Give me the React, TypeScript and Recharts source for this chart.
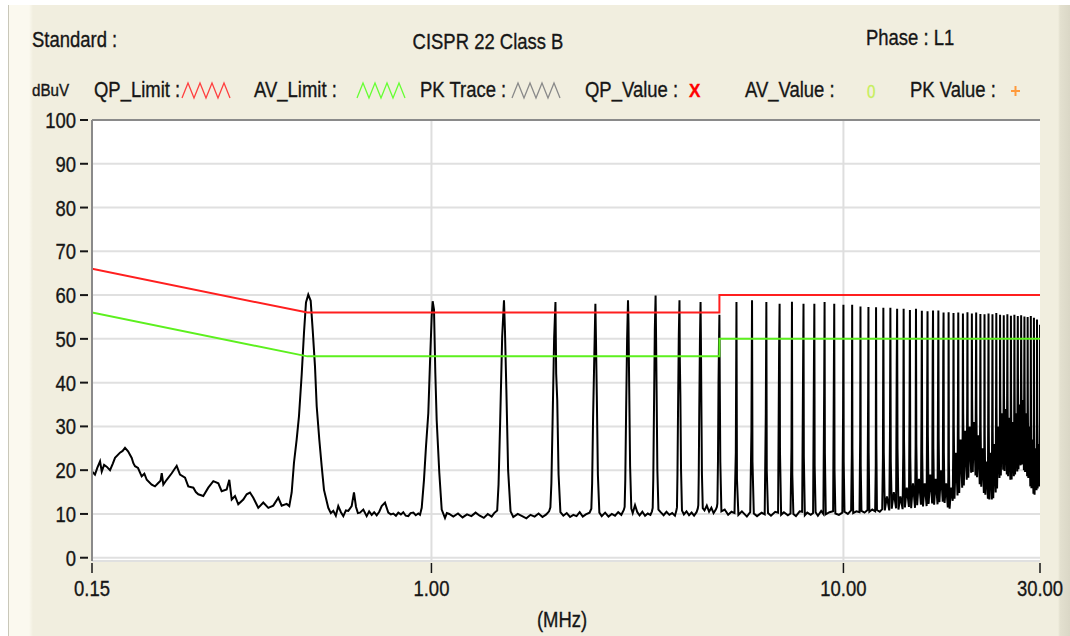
import { CartesianGrid, Line, LineChart, ReferenceLine, XAxis, YAxis } from 'recharts';

// frequency axis (MHz, log) and level axis (dBuV)
const xTicks = [0.15, 1, 10, 30];
const yTicks = [0, 10, 20, 30, 40, 50, 60, 70, 80, 90, 100];

// CISPR 22 class B limits, [MHz, dBuV]
const qpLimit: [number, number][] = [[0.15, 66], [0.5, 56], [5, 56], [5, 60], [30, 60]];
const avLimit: [number, number][] = [[0.15, 56], [0.5, 46], [5, 46], [5, 50], [30, 50]];

// peak trace, [MHz, dBuV]
const pkTraceLow: [number, number][] = [
  [0.15, 19.7], [0.1525, 19.0], [0.1545, 20.5], [0.1569, 22.0], [0.1584, 19.7], [0.1605, 21.2], [0.1628, 20.8],
  [0.1659, 20.0], [0.1685, 21.5], [0.1706, 22.8], [0.1754, 24.0], [0.178, 24.4], [0.1804, 25.1], [0.1835, 24.3],
  [0.1873, 22.8], [0.189, 21.6], [0.1908, 20.9], [0.194, 20.5], [0.198, 18.6], [0.201, 19.2], [0.2037, 17.8],
  [0.2094, 16.7], [0.2133, 16.3], [0.2169, 17.0], [0.22, 17.6], [0.2215, 19.3], [0.2235, 16.7], [0.2277, 17.8],
  [0.2342, 19.3], [0.2408, 21.0], [0.2453, 19.0], [0.2523, 18.3], [0.2569, 16.3], [0.2643, 16.0], [0.268, 15.0],
  [0.2717, 14.5], [0.2794, 14.1], [0.2873, 16.0], [0.2955, 17.5], [0.3039, 17.0], [0.3096, 15.2], [0.3184, 15.6],
  [0.3231, 17.8], [0.3275, 13.3], [0.3336, 14.1], [0.3397, 12.2], [0.3494, 13.3], [0.3561, 14.5], [0.3627, 14.9],
  [0.3695, 13.7], [0.3799, 11.4], [0.3907, 12.6], [0.4018, 11.4], [0.4131, 11.9], [0.4249, 13.7], [0.433, 11.9],
  [0.4453, 12.3], [0.4518, 11.8],
  [0.4579, 14.9], [0.4638, 21.7], [0.4708, 27.0], [0.4769, 32.3], [0.4842, 41.8], [0.4905, 51.4], [0.496, 58.3],
  [0.5024, 60.1], [0.5092, 58.7], [0.515, 52.0], [0.5216, 43.7], [0.5266, 34.6], [0.5343, 27.0], [0.5415, 20.9],
  [0.5485, 15.5], [0.5618, 11.4],
  [0.57, 10.2], [0.5778, 10.7], [0.586, 9.6], [0.5941, 11.8], [0.603, 10.4], [0.6111, 9.5], [0.62, 10.8],
  [0.6283, 10.7], [0.6403, 11.8], [0.6486, 14.9], [0.656, 11.6], [0.663, 10.2], [0.6708, 10.3], [0.6833, 11.0],
  [0.6963, 9.5], [0.706, 10.6], [0.7161, 9.8], [0.726, 10.4], [0.7364, 9.7], [0.747, 10.5], [0.7573, 11.8],
  [0.7714, 12.6], [0.7857, 10.3], [0.797, 9.9], [0.8081, 10.1], [0.82, 9.6], [0.831, 10.3], [0.843, 9.9],
  [0.8544, 10.4], [0.866, 9.6], [0.8786, 9.5], [0.89, 10.2], [0.9038, 10.3], [0.916, 9.7], [0.9292, 10.1],
  [0.938, 9.8], [0.9471, 11.4],
  [0.9592, 17.8], [0.97, 25.4], [0.9826, 33.0], [0.9919, 44.5], [1.0014, 55.2], [1.0069, 58.6], [1.0144, 56.7],
  [1.0219, 42.2], [1.0296, 31.5], [1.0449, 19.4], [1.059, 11.0], [1.0787, 9.1], [1.09, 10.2], [1.1048, 10.0],
];

const pkTraceMid: [number, number][] = [
  [1.13, 9.4], [1.16, 10.1], [1.19, 9.2], [1.22, 9.9], [1.25, 9.5], [1.28, 10.3], [1.31, 9.6], [1.34, 9.1],
  [1.37, 10.0], [1.4, 9.4], [1.42, 10.2],
  [1.444, 10.8], [1.455, 16.7], [1.468, 30.8], [1.485, 50.6], [1.5, 58.8], [1.508, 52], [1.52, 38.4], [1.535, 20], [1.556, 10.6],
  [1.58, 9.3], [1.62, 10.0], [1.66, 9.5], [1.7, 9.0], [1.74, 9.8], [1.78, 9.4], [1.82, 10.1], [1.86, 9.3],
  [1.9, 9.9], [1.93, 10.6],
  [1.944, 11.5], [1.955, 17], [1.968, 31], [1.985, 50], [2.0, 58.4], [2.008, 42], [2.02, 36], [2.035, 19], [2.056, 10.4],
  [2.09, 9.6], [2.13, 10.2], [2.17, 9.3], [2.21, 9.8], [2.25, 9.5], [2.29, 10.4], [2.33, 9.4], [2.37, 9.9], [2.42, 10.3],
  [2.444, 11.2], [2.455, 17], [2.468, 32], [2.485, 46], [2.5, 58.0], [2.508, 50], [2.52, 37], [2.535, 19], [2.556, 10.3],
  [2.59, 9.5], [2.64, 10.3], [2.69, 9.4], [2.74, 10.0], [2.79, 9.6], [2.84, 10.4], [2.89, 9.8], [2.93, 10.9],
  [2.944, 11.6], [2.955, 18], [2.968, 33], [2.985, 50], [3.0, 58.8], [3.008, 53.7], [3.02, 39], [3.035, 21], [3.056, 11.2],
  [3.08, 10.2], [3.12, 12.0], [3.16, 10.4], [3.2, 9.7], [3.25, 10.5], [3.3, 9.6], [3.35, 10.1], [3.4, 9.8], [3.43, 10.6],
  [3.444, 11.4], [3.455, 18], [3.468, 33], [3.485, 52], [3.5, 59.9], [3.508, 52], [3.52, 38], [3.535, 20], [3.556, 11.0],
  [3.6, 10.4], [3.66, 9.7], [3.72, 10.5], [3.78, 9.8], [3.84, 10.2], [3.9, 9.6], [3.93, 10.7],
  [3.944, 11.5], [3.955, 19], [3.968, 34], [3.985, 51], [4.0, 58.8], [4.008, 45], [4.02, 37], [4.035, 20], [4.056, 10.8],
  [4.1, 9.9], [4.16, 10.6], [4.22, 9.7], [4.28, 10.3], [4.34, 9.6], [4.4, 10.4], [4.43, 11.2],
  [4.444, 12.0], [4.455, 19], [4.468, 34], [4.485, 50], [4.5, 58.4], [4.508, 51], [4.52, 36], [4.535, 19], [4.556, 11.3],
  [4.6, 10.8], [4.66, 11.9], [4.72, 10.5], [4.78, 11.4], [4.84, 10.2], [4.9, 11.0], [4.93, 11.6],
  [4.944, 12.4], [4.96, 22], [4.975, 40], [4.99, 50], [5.0, 55.5], [5.01, 40], [5.025, 22], [5.056, 10.6],
  [5.15, 11.0], [5.25, 9.8], [5.35, 10.5],
];

const pkTraceHigh: [number, number][] = [
  [5.44, 10.2], [5.48, 24], [5.5, 58.4], [5.515, 18], [5.56, 9.8], [5.67, 10.6], [5.83, 9.4],
  [5.94, 10.4], [5.98, 29], [6.0, 58.8], [6.015, 22], [6.06, 10.1], [6.17, 9.5], [6.33, 10.3],
  [6.44, 9.9], [6.48, 33], [6.5, 58.4], [6.515, 20], [6.56, 10.2], [6.67, 9.6], [6.83, 10.5],
  [6.94, 10.3], [6.98, 47.5], [7.0, 58.0], [7.015, 24], [7.06, 9.8], [7.17, 10.4], [7.33, 9.7],
  [7.44, 10.1], [7.48, 25.4], [7.5, 58.5], [7.515, 19], [7.56, 10.0], [7.67, 9.5], [7.83, 10.6],
  [7.94, 10.5], [7.98, 42.6], [8.0, 58.0], [8.015, 23], [8.06, 9.7], [8.17, 10.3], [8.33, 9.8],
  [8.44, 10.2], [8.48, 44], [8.5, 58.0], [8.515, 21], [8.56, 10.4], [8.67, 9.6], [8.83, 10.7],
  [8.94, 10.0], [8.98, 39], [9.0, 58.4], [9.015, 24], [9.06, 9.9], [9.25, 10.4],
  [9.44, 10.6], [9.48, 43], [9.5, 58.0], [9.515, 20], [9.56, 10.1], [9.75, 9.8],
  [9.94, 10.3], [9.98, 33], [10.0, 57.8], [10.015, 22], [10.06, 10.5], [10.25, 10.0],
  [10.44, 10.8], [10.48, 23.5], [10.5, 57.8], [10.515, 25], [10.56, 10.2], [10.75, 10.6],
  [10.94, 10.4], [10.98, 27], [11.0, 57.4], [11.015, 21], [11.06, 10.7], [11.25, 10.3],
  [11.44, 10.9], [11.48, 37], [11.5, 57.3], [11.515, 24], [11.56, 10.5], [11.75, 11.0],
  [11.94, 10.6], [11.98, 21], [12.0, 57.2], [12.02, 26], [12.06, 10.9], [12.25, 10.5],
  [12.42, 11.1], [12.47, 22.9], [12.5, 57.1], [12.53, 24], [12.6, 10.8], [12.75, 14],
  [12.92, 10.8], [12.97, 27.7], [13.0, 57.1], [13.03, 22], [13.1, 11.2], [13.25, 15],
  [13.42, 11.3], [13.47, 44], [13.5, 56.9], [13.53, 25], [13.6, 11.0], [13.75, 14],
  [13.92, 11.1], [13.97, 24], [14.0, 56.9], [14.03, 27], [14.1, 11.5], [14.25, 16],
  [14.42, 11.6], [14.47, 34], [14.5, 56.6], [14.53, 23], [14.6, 11.3], [14.75, 17],
  [14.92, 11.4], [14.97, 25.4], [15.0, 56.9], [15.03, 26], [15.1, 12.0], [15.25, 18],
  [15.42, 12.1], [15.47, 33], [15.5, 56.4], [15.53, 24], [15.6, 11.7], [15.75, 17],
  [15.92, 11.8], [15.97, 37.6], [16.0, 56.3], [16.03, 28], [16.1, 12.3], [16.25, 19],
  [16.42, 12.4], [16.47, 47], [16.5, 56.5], [16.53, 25], [16.6, 12.1], [16.75, 18],
  [16.92, 12.2], [16.97, 40], [17.0, 56.5], [17.03, 27], [17.1, 12.7], [17.25, 20],
  [17.42, 12.8], [17.47, 46.8], [17.5, 56.0], [17.53, 24], [17.6, 12.5], [17.75, 17],
  [17.92, 11.5], [17.97, 18.6], [18.0, 56.1], [18.03, 22], [18.1, 11.2], [18.25, 16],
  [18.42, 13.0], [18.47, 24.7], [18.5, 55.9], [18.53, 30], [18.6, 13.5], [18.75, 24],
  [18.92, 14.2], [18.97, 38], [19.0, 56.0], [19.03, 28], [19.1, 14.8], [19.25, 27],
  [19.42, 16.0], [19.47, 28.9], [19.5, 55.8], [19.53, 33], [19.6, 16.5], [19.75, 29],
  [19.92, 17.8], [19.97, 35], [20.0, 56.1], [20.03, 31], [20.1, 18.3], [20.25, 30],
  [20.42, 19.4], [20.47, 27], [20.5, 55.8], [20.53, 36], [20.6, 19.6], [20.75, 31],
  [20.92, 18.8], [20.97, 42.8], [21.0, 56.0], [21.03, 33], [21.1, 18.4], [21.25, 28],
  [21.42, 16.8], [21.47, 31.5], [21.5, 55.7], [21.53, 30], [21.6, 16.2], [21.75, 25],
  [21.92, 14.8], [21.97, 20.9], [22.0, 55.6], [22.03, 28], [22.1, 14.4], [22.25, 22],
  [22.42, 13.5], [22.47, 39], [22.5, 55.8], [22.53, 30], [22.6, 13.3], [22.75, 24],
  [22.92, 13.3], [22.97, 35], [23.0, 55.6], [23.03, 29], [23.1, 13.6], [23.25, 26],
  [23.42, 14.9], [23.47, 36.9], [23.5, 55.9], [23.53, 34], [23.6, 15.8], [23.75, 30],
  [23.92, 18.2], [23.97, 25.4], [24.0, 55.5], [24.03, 37], [24.1, 18.8], [24.25, 33],
  [24.42, 20.1], [24.47, 33.8], [24.5, 55.4], [24.53, 39], [24.6, 19.8], [24.75, 34],
  [24.92, 19.0], [24.97, 38.4], [25.0, 55.6], [25.03, 36], [25.1, 18.6], [25.25, 32],
  [25.42, 17.8], [25.47, 34.6], [25.5, 55.3], [25.53, 37], [25.6, 17.9], [25.75, 31],
  [25.92, 18.6], [25.97, 31.5], [26.0, 55.5], [26.03, 40], [26.1, 19.0], [26.25, 33],
  [26.42, 19.7], [26.47, 44.5], [26.5, 55.2], [26.53, 38], [26.6, 20.2], [26.75, 35],
  [26.92, 21.1], [26.97, 40], [27.0, 55.4], [27.03, 42], [27.1, 21.3], [27.25, 36],
  [27.42, 20.0], [27.47, 40.7], [27.5, 55.1], [27.53, 39], [27.6, 19.6], [27.75, 33],
  [27.92, 18.6], [27.97, 24], [28.0, 55.0], [28.03, 36], [28.1, 18.2], [28.25, 30],
  [28.42, 16.3], [28.47, 34.6], [28.5, 55.2], [28.53, 33], [28.6, 15.9], [28.75, 27],
  [28.92, 14.6], [28.97, 25.4], [29.0, 54.8], [29.03, 30], [29.1, 14.4], [29.25, 25],
  [29.42, 15.4], [29.47, 22.2], [29.5, 54.4], [29.53, 31], [29.6, 15.8], [29.75, 26],
  [29.92, 16.3], [29.97, 35], [30.0, 53.2],
];

const toRows = (pts: [number, number][]) => pts.map(([f, v]) => ({ f, v }));
const pkRows = toRows([...pkTraceLow, ...pkTraceMid, ...pkTraceHigh]);
const qpRows = toRows(qpLimit);
const avRows = toRows(avLimit);

const FONT = '"Liberation Sans", Arial, sans-serif';
const INK = '#161616';

// the source uses a tall, narrow bitmap font: squeeze horizontally and thicken a bit
function Label({ x, y, children, anchor = 'start', size = 22, sx = 0.84, fill = INK, weight = 'normal' }: any) {
  return (
    <text
      transform={`translate(${x},${y}) scale(${sx},1)`}
      textAnchor={anchor}
      fontSize={size}
      fontFamily={FONT}
      fontWeight={weight}
      fill={fill}
      stroke={fill}
      strokeWidth={0.35}
    >
      {children}
    </text>
  );
}

function YTick({ x, y, payload }: any) {
  return (
    <g>
      <line x1={x - 12} x2={x - 4} y1={y} y2={y} stroke={INK} strokeWidth={2} />
      <Label x={x - 16} y={y + 8} anchor="end">{payload.value}</Label>
    </g>
  );
}

function XTick({ x, y, payload }: any) {
  return (
    <g>
      <line x1={x} x2={x} y1={y + 2} y2={y + 12} stroke={INK} strokeWidth={1.5} />
      <Label x={x} y={y + 35} anchor="middle">{payload.value.toFixed(2)}</Label>
    </g>
  );
}

function Zigzag({ x, color }: { x: number; color: string }) {
  const pts = [0, 1, 2, 3, 4, 5, 6, 7, 8].map((i) => `${x + i * 6},${i % 2 ? 83 : 98}`).join(' ');
  return <polyline points={pts} fill="none" stroke={color} strokeWidth={1.3} />;
}

export default function App() {
  return (
    <div style={{ position: 'relative', width: 1070, height: 636, background: '#fff', overflow: 'hidden' }}>
      <style>{'body{margin:0}'}</style>
      <div
        style={{
          position: 'absolute',
          left: 8,
          top: 5,
          width: 1062,
          height: 631,
          background:
            'linear-gradient(to right, #c9c7b9 0px, #c9c7b9 1px, #fbf9ef 1px, #fbf9ef 21px, #f1eedf 25px, #f1eedf 1050px, #e3e0cf 1052px, #dad7c6 1062px)',
        }}
      />
      <div style={{ position: 'absolute', left: 0, top: 0 }}>
        <LineChart width={1070} height={636} margin={{ top: 120, right: 30, bottom: 35, left: 0 }}>
          <CartesianGrid vertical={false} stroke="#e0e0e0" strokeWidth={2} fill="#ffffff" fillOpacity={1} />
          <XAxis
            dataKey="f"
            type="number"
            scale="log"
            domain={[0.15, 30]}
            ticks={xTicks}
            interval={0}
            allowDataOverflow
            axisLine={false}
            tickLine={false}
            tickSize={0}
            tickMargin={0}
            height={40}
            tick={<XTick />}
          />
          <YAxis
            type="number"
            domain={[-0.75, 100]}
            ticks={yTicks}
            interval={0}
            allowDataOverflow
            width={92}
            axisLine={{ stroke: '#8a8a8a', strokeWidth: 2 }}
            tickLine={false}
            tickSize={0}
            tickMargin={0}
            tick={<YTick />}
          />
          <ReferenceLine x={1} stroke="#dedede" strokeWidth={2} />
          <ReferenceLine x={10} stroke="#dedede" strokeWidth={2} />
          <ReferenceLine y={100} stroke="#8a8a8a" strokeWidth={2} />
          <Line
            data={pkRows}
            dataKey="v"
            type="linear"
            stroke="#000"
            strokeWidth={2}
            dot={false}
            activeDot={false}
            isAnimationActive={false}
          />
          <Line
            data={qpRows}
            dataKey="v"
            type="linear"
            stroke="#ff1f1f"
            strokeWidth={2}
            dot={false}
            activeDot={false}
            isAnimationActive={false}
          />
          <Line
            data={avRows}
            dataKey="v"
            type="linear"
            stroke="#5cf01e"
            strokeWidth={2}
            dot={false}
            activeDot={false}
            isAnimationActive={false}
          />
        </LineChart>
      </div>
      <svg width={1070} height={636} style={{ position: 'absolute', left: 0, top: 0, pointerEvents: 'none' }}>
        <Label x={32} y={46.5}>Standard :</Label>
        <Label x={488} y={48.5} anchor="middle">CISPR 22 Class B</Label>
        <Label x={866} y={44.5}>Phase : L1</Label>

        <Label x={32} y={96} size={16} sx={0.95}>dBuV</Label>
        <Label x={94} y={96.5}>QP_Limit :</Label>
        <Zigzag x={182} color="#ff4040" />
        <Label x={254} y={96.5}>AV_Limit :</Label>
        <Zigzag x={357} color="#66ff33" />
        <Label x={420} y={96.5}>PK Trace :</Label>
        <Zigzag x={512} color="#8a8a8a" />
        <Label x={585} y={96.5}>QP_Value :</Label>
        <Label x={689} y={97} size={19} sx={0.9} fill="#ff0000" weight="bold">X</Label>
        <Label x={745} y={96.5}>AV_Value :</Label>
        <Label x={867} y={97.5} size={19} sx={0.8} fill="#c6ee5a">0</Label>
        <Label x={910} y={96.5}>PK Value :</Label>
        <line x1={1011} x2={1020} y1={91} y2={91} stroke="#ff9a3c" strokeWidth={2} />
        <line x1={1015.5} x2={1015.5} y1={86} y2={96} stroke="#ff9a3c" strokeWidth={2} />

        <Label x={562} y={627} anchor="middle">(MHz)</Label>
      </svg>
    </div>
  );
}
